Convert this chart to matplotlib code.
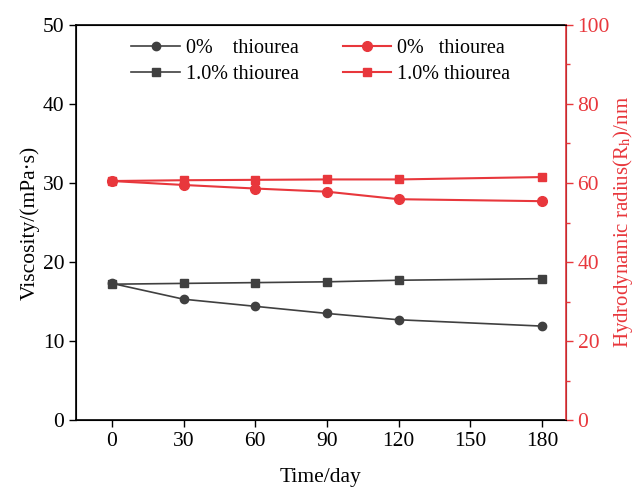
import matplotlib
matplotlib.use("Agg")
import matplotlib.pyplot as plt
from matplotlib.ticker import MultipleLocator

plt.rcParams['font.family'] = ['Liberation Serif', 'DejaVu Serif']
plt.rcParams['mathtext.fontset'] = 'stix'

days = [0, 30, 60, 90, 120, 180]
visc_0 = [17.3, 15.3, 14.4, 13.5, 12.7, 11.9]
visc_1 = [17.2, 17.3, 17.4, 17.5, 17.7, 17.9]
rh_0 = [60.5, 59.5, 58.6, 57.8, 55.9, 55.4]
rh_1 = [60.5, 60.7, 60.8, 60.9, 60.9, 61.5]

gray = '#404040'
red = '#e8373c'

fig = plt.figure(figsize=(6.4, 4.88), dpi=100)
ax = fig.add_axes([0.119, 0.139, 0.765, 0.81])
ax2 = ax.twinx()

l1, = ax.plot(days, visc_0, '-o', color=gray, ms=6, lw=1.2, label='0%    thiourea')
l2, = ax.plot(days, visc_1, '-s', color=gray, ms=6, lw=1.2, label='1.0% thiourea')
l3, = ax2.plot(days, rh_0, '-o', color=red, ms=7, lw=1.5, label='0%   thiourea')
l4, = ax2.plot(days, rh_1, '-s', color=red, ms=6, lw=1.5, label='1.0% thiourea')

ax.set_xlim(-15, 190)
ax.set_ylim(0, 50)
ax2.set_ylim(0, 100)
ax.set_xticks([0, 30, 60, 90, 120, 150, 180])
ax.yaxis.set_major_locator(MultipleLocator(10))
ax2.yaxis.set_major_locator(MultipleLocator(20))
ax2.yaxis.set_minor_locator(MultipleLocator(10))

ax.tick_params(axis='both', labelsize=15.5, direction='out', length=5, width=1)
ax2.tick_params(axis='y', which='both', labelsize=15.5, colors=red, direction='out', length=5, width=1)
ax2.tick_params(axis='y', which='minor', length=3)

ax2.spines['right'].set_color(red)
ax2.spines['right'].set_linewidth(1.2)
for s in ['left', 'bottom', 'top']:
    ax.spines[s].set_linewidth(1.2)

ax.set_xlabel('Time/day', fontsize=15.5, labelpad=12)
ax.set_ylabel('Viscosity/(mPa·s)', fontsize=15.5, labelpad=2)
ax2.set_ylabel(r'Hydrodynamic radius(R$_{\rm h}$)/nm', fontsize=15, color=red, labelpad=1)

ax.legend(handles=[l1, l2, l3, l4], ncol=2, frameon=False, fontsize=14.5,
          loc='upper center', bbox_to_anchor=(0.5, 1.01), columnspacing=2.2,
          handlelength=2.4, handletextpad=0.3, labelspacing=0.35)

fig.savefig('out.png', dpi=100)
